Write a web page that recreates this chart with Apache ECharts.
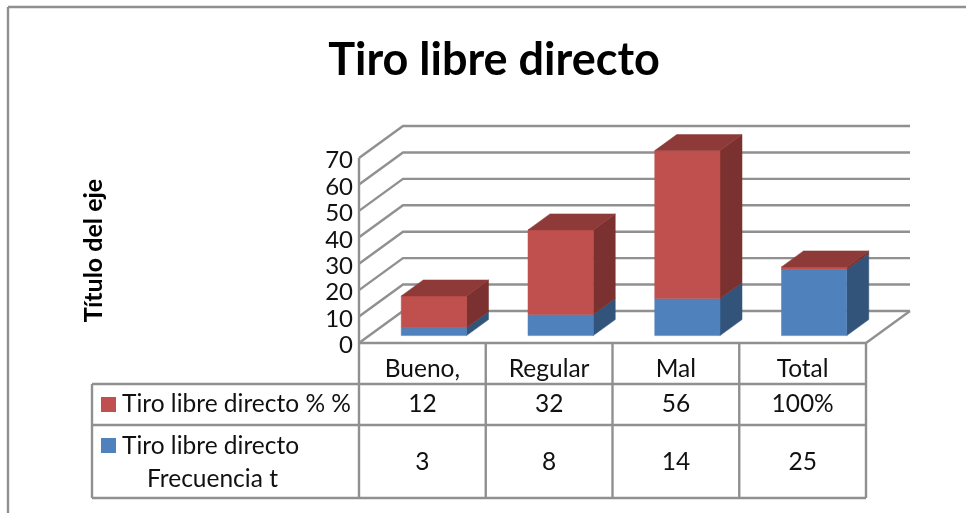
<!DOCTYPE html>
<html>
<head>
<meta charset="utf-8">
<style>
  html, body { margin: 0; padding: 0; background: #fff; }
  #chart { width: 966px; height: 513px; }
</style>
<script src="https://cdn.jsdelivr.net/npm/echarts@6/dist/echarts.min.js"></script>
</head>
<body>
<div id="chart"></div>
<script>
const categories = ['Bueno,', 'Regular', 'Mal', 'Total'];
const frecuencia = [3, 8, 14, 25];
const porcentaje = [12, 32, 56, 1];
const frecuenciaLabels = ['3', '8', '14', '25'];
const porcentajeLabels = ['12', '32', '56', '100%'];
const yTicks = [0, 10, 20, 30, 40, 50, 60, 70];

const FONT = 'Lato, "Open Sans", sans-serif';
const LINE = '#909090';
const LINE_W = 2.4;
const BLUE = { front: '#4f81bd', side: '#32547a' };
const RED = { front: '#c0504d', side: '#7a312f', top: '#8e3a38' };

// plot box of the front plane
const GRID = { left: 359, top: 158, width: 507, height: 185 };
// how far the back wall is moved from the front plane
const WALL_DX = 44;
const WALL_DY = 32;
// bars stand in the middle half of the floor
const BAR_DX = WALL_DX / 4;
const BAR_DY = 7.4;
const BAR_DEPTH_X = WALL_DX / 2;
const BAR_DEPTH_Y = WALL_DY / 2;

const poly = (points, fill) => ({
  type: 'polygon',
  shape: { points },
  style: { fill, stroke: fill, lineWidth: 0.5 },
});

// one stacked block of a 3d column
const renderBlock = (colors, withTop) => (params, api) => {
  const idx = api.value(0);
  const base = api.value(1);
  const val = api.value(2);
  const bandW = api.size([1, 0])[0];
  const w = bandW * 0.515;
  const c = api.coord([idx, 0]);
  const x0 = c[0] + BAR_DX - w / 2 + 0.5;
  const x1 = x0 + w;
  const yB = api.coord([idx, base])[1] - BAR_DY;
  const yT = api.coord([idx, base + val])[1] - BAR_DY;
  const dx = BAR_DEPTH_X;
  const dy = BAR_DEPTH_Y;
  const children = [
    poly([[x1, yB], [x1 + dx, yB - dy], [x1 + dx, yT - dy], [x1, yT]], colors.side),
    poly([[x0, yB], [x1, yB], [x1, yT], [x0, yT]], colors.front),
  ];
  if (withTop) {
    children.push(poly([[x0, yT], [x1, yT], [x1 + dx, yT - dy], [x0 + dx, yT - dy]], colors.top));
  }
  return { type: 'group', children };
};

const renderWall = (params, api) => {
  const v = api.value(0);
  const p = api.coord([0, v]);
  const x = GRID.left;
  const xEnd = GRID.left + GRID.width + WALL_DX;
  return {
    type: 'polyline',
    shape: { points: [[x, p[1]], [x + WALL_DX, p[1] - WALL_DY], [xEnd, p[1] - WALL_DY]] },
    style: { stroke: LINE, lineWidth: LINE_W, fill: null },
  };
};

// table under the plot, the columns line up with the category band
const TABLE = { left: 92, y0: 343, y1: 384, y2: 425, y3: 498 };
const colW = GRID.width / categories.length;

const hLine = (x1, y, x2) => ({
  type: 'line',
  shape: { x1, y1: y, x2, y2: y },
  style: { stroke: LINE, lineWidth: LINE_W },
  silent: true,
});
const vLine = (x, y1, y2) => ({
  type: 'line',
  shape: { x1: x, y1, x2: x, y2 },
  style: { stroke: LINE, lineWidth: LINE_W },
  silent: true,
});
const cell = (text, x, y, align) => ({
  type: 'text',
  x,
  y,
  style: { text, font: '24.5px ' + FONT, fill: '#111', align: align || 'center', verticalAlign: 'middle' },
  silent: true,
});
const swatch = (x, y, fill) => ({
  type: 'rect',
  shape: { x, y, width: 15, height: 15 },
  style: { fill },
  silent: true,
});

const tableGraphics = [
  // chart border
  hLine(8, 7, 966),
  vLine(8, 7, 513),
  // floor edge on the right
  {
    type: 'line',
    shape: { x1: GRID.left + GRID.width, y1: 343, x2: GRID.left + GRID.width + WALL_DX, y2: 343 - WALL_DY },
    style: { stroke: LINE, lineWidth: LINE_W },
    silent: true,
  },
  hLine(GRID.left, TABLE.y0, GRID.left + GRID.width),
  hLine(TABLE.left, TABLE.y1, GRID.left + GRID.width),
  hLine(TABLE.left, TABLE.y2, GRID.left + GRID.width),
  hLine(TABLE.left, TABLE.y3, GRID.left + GRID.width),
  vLine(TABLE.left, TABLE.y1, TABLE.y3),
  swatch(101, 397, RED.front),
  swatch(101, 438, BLUE.front),
  cell('Tiro libre directo % %', 122, 404, 'left'),
  cell('Tiro libre directo', 122, 446, 'left'),
  cell('Frecuencia t', 147, 479, 'left'),
];
for (let i = 0; i <= categories.length; i++) {
  tableGraphics.push(vLine(GRID.left + colW * i, i === 0 ? GRID.top : TABLE.y0, TABLE.y3));
}
categories.forEach((name, i) => {
  const cx = GRID.left + colW * (i + 0.5);
  tableGraphics.push(cell(name, cx, 369));
  tableGraphics.push(cell(porcentajeLabels[i], cx, 404));
  tableGraphics.push(cell(frecuenciaLabels[i], cx, 462));
});

const chart = echarts.init(document.getElementById('chart'), null, { renderer: 'canvas' });

chart.setOption({
  animation: false,
  backgroundColor: '#fff',
  title: {
    text: 'Tiro libre directo',
    left: 489,
    top: 33,
    textAlign: 'center',
    textStyle: { fontFamily: FONT, fontWeight: 'bold', fontSize: 45, color: '#000' },
  },
  grid: GRID,
  xAxis: {
    type: 'category',
    data: categories,
    axisLine: { show: false },
    axisTick: { show: false },
    axisLabel: { show: false },
    splitLine: { show: false },
  },
  yAxis: {
    type: 'value',
    min: 0,
    max: 70,
    interval: 10,
    name: 'Título del eje',
    nameLocation: 'middle',
    nameGap: 253,
    nameRotate: 90,
    nameTextStyle: { fontFamily: FONT, fontWeight: 'bold', fontSize: 25, color: '#000' },
    axisLine: { show: false },
    axisTick: { show: false },
    splitLine: { show: false },
    axisLabel: {
      margin: 6,
      formatter: '{n|{value}}',
      rich: { n: { fontFamily: FONT, fontSize: 24, color: '#111', padding: [5, 0, 0, 0] } },
    },
  },
  series: [
    {
      type: 'custom',
      name: 'Pared',
      coordinateSystem: 'cartesian2d',
      data: yTicks.map((v) => [v]),
      encode: { y: 0 },
      renderItem: renderWall,
      silent: true,
      z: 1,
    },
    {
      type: 'custom',
      name: 'Tiro libre directo Frecuencia t',
      coordinateSystem: 'cartesian2d',
      data: frecuencia.map((v, i) => [i, 0, v]),
      encode: { x: 0, y: [1, 2] },
      renderItem: renderBlock(BLUE, false),
      z: 2,
    },
    {
      type: 'custom',
      name: 'Tiro libre directo % %',
      coordinateSystem: 'cartesian2d',
      data: porcentaje.map((v, i) => [i, frecuencia[i], v]),
      encode: { x: 0, y: [1, 2] },
      renderItem: renderBlock(RED, true),
      z: 3,
    },
  ],
  graphic: tableGraphics,
});
</script>
</body>
</html>
